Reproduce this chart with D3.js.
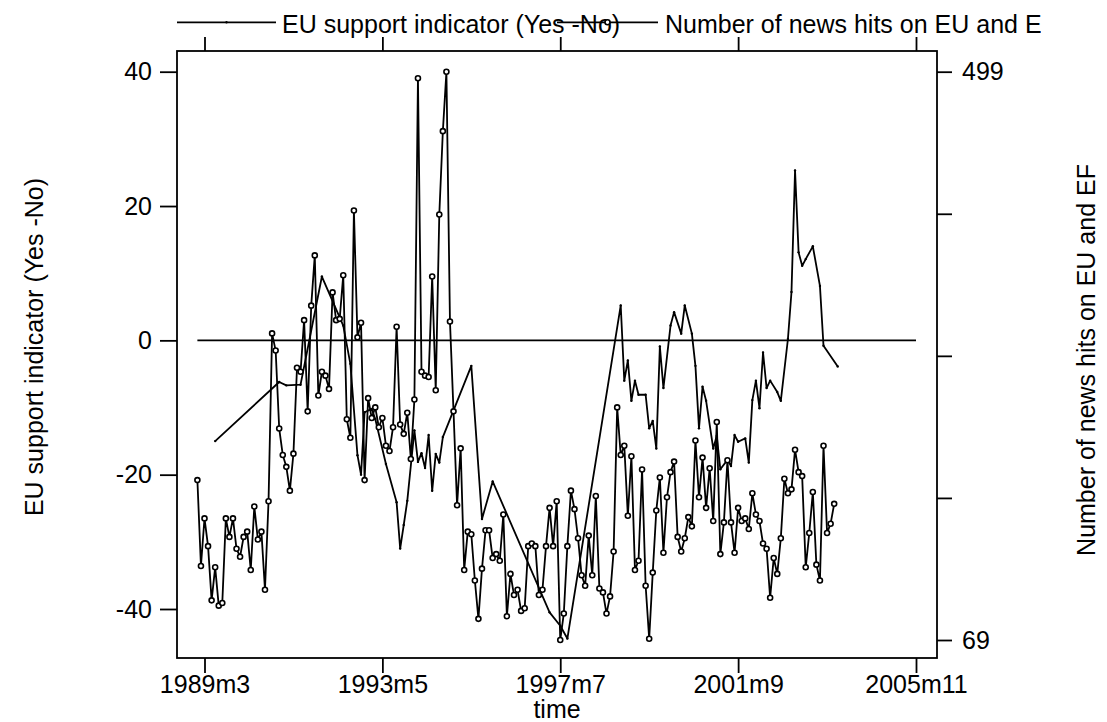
<!DOCTYPE html>
<html lang="en">

<head>
    <title>EU support and news hits</title>
    <meta charset="UTF-8">
    <script src="https://d3js.org/d3.v7.min.js"></script>
    <style>
        body {
            margin: 0;
            background: #fff;
        }

        text {
            font-family: "Liberation Sans", Arial, sans-serif;
            font-size: 25px;
            fill: #000;
        }
    </style>
</head>

<body>
    <svg width="1107" height="722"></svg>

    <script>
        // time ticks (Stata monthly dates)
        const timeTicks = ["1989m3", "1993m5", "1997m7", "2001m9", "2005m11"];
        // range of the y=0 reference line
        const zeroLineRange = ["1989m1", "2005m11"];

        // EU support indicator (Yes - No), left axis
        const supportMonths = ["1989m6", "1990m12", "1991m2", "1991m6", "1991m12",
            "1992m6", "1992m8", "1992m10", "1992m11", "1992m12",
            "1993m2", "1993m3", "1993m6", "1993m9", "1993m10", "1993m11", "1993m12",
            "1994m2", "1994m3", "1994m4", "1994m5", "1994m6", "1994m7", "1994m8", "1994m9", "1994m10",
            "1995m6", "1995m9", "1995m12",
            "1997m4", "1997m7", "1997m9",
            "1998m12",
            "1999m1", "1999m2", "1999m3", "1999m4", "1999m5", "1999m7", "1999m8", "1999m9", "1999m10", "1999m11", "1999m12",
            "2000m2", "2000m3", "2000m5", "2000m6", "2000m8", "2000m9", "2000m10", "2000m11", "2000m12",
            "2001m2", "2001m3", "2001m4", "2001m6", "2001m7", "2001m8", "2001m9", "2001m11", "2001m12",
            "2002m1", "2002m2", "2002m3", "2002m4", "2002m5", "2002m6", "2002m8", "2002m9", "2002m11", "2002m12",
            "2003m1", "2003m2", "2003m3", "2003m4", "2003m6", "2003m8", "2003m9",
            "2004m1"];
        const support = [-15.0, -6.2, -6.7, -6.6, 9.5,
            2.2, -3.5, -17.1, -20.0, -10.7,
            -10.2, -11.7, -18.4, -24.1, -31.0, -27.5, -23.9,
            -13.4, -18.1, -16.8, -19.0, -14.1, -22.4, -16.9, -18.2, -14.4,
            -3.8, -26.6, -21.0,
            -40.5, -42.5, -44.4,
            5.2,
            -6.0, -3.0, -9.0, -6.0, -8.1, -8.1, -13.1, -12.0, -16.1, -0.9, -7.1,
            2.2, 4.2, 1.0, 5.2, 1.0, -3.8, -13.1, -6.9, -9.0,
            -16.1, -14.2, -19.2, -17.8, -18.7, -14.1, -15.1, -14.6, -18.2,
            -8.9, -6.0, -10.1, -1.8, -7.1, -6.0, -7.7, -9.0, 0.2, 7.2,
            25.3, 13.1, 11.1, 12.1, 14.0, 8.1, -0.8,
            -3.9];

        // Number of news hits on EU and EF, right axis, monthly from newsStart
        const newsStart = "1989m1";
        const newsHits = [190, 125, 161, 140, 99, 124, 95, 97, 161, 147,
            161, 138, 132, 147, 151, 122, 170, 145, 151, 107,
            174, 301, 288, 229, 209, 200, 182, 210, 275, 272,
            311, 242, 322, 360, 254, 272, 269, 259, 332, 311,
            312, 345, 236, 222, 394, 298, 309, 190, 252, 237,
            245, 230, 237, 216, 212, 230, 306, 232, 225, 241,
            206, 251, 494, 272, 269, 268, 344, 258, 391, 454,
            499, 310, 242, 171, 214, 122, 151, 149, 114, 85,
            123, 152, 152, 131, 134, 129, 164, 87, 119, 103,
            107, 91, 93, 140, 142, 140, 103, 107, 140, 169,
            140, 174, 69, 89, 140, 182, 168, 146, 118, 110,
            148, 118, 178, 108, 105, 89, 102, 136, 245, 209,
            216, 163, 208, 122, 129, 198, 110, 70, 120, 167,
            192, 135, 177, 196, 204, 147, 136, 146, 162, 155,
            220, 177, 207, 169, 199, 159, 234, 134, 158, 205,
            158, 135, 169, 159, 161, 153, 180, 164, 159, 142,
            138, 101, 131, 119, 146, 191, 180, 183, 213, 196,
            193, 124, 150, 181, 126, 114, 216, 150, 157, 172];

        const leftTicks = [-40, -20, 0, 20, 40];
        const rightTicks = [69, 176.5, 284, 391.5, 499];
        const rightLabels = [69, 499];

        const legendLabels = ["EU support indicator (Yes -No)", "Number of news hits on EU and EF"];
        const xTitle = "time";
        const yLeftTitle = "EU support indicator (Yes -No)";
        const yRightTitle = "Number of news hits on EU and EF";

        // "1989m3" <-> Stata month number
        function toMonth(s) {
            const p = s.split("m");
            return (+p[0] - 1960) * 12 + (+p[1] - 1);
        }
        function fmtMonth(m) {
            return (1960 + Math.floor(m / 12)) + "m" + (m % 12 + 1);
        }

        const svg = d3.select("svg");
        const frame = { left: 177, right: 937, top: 51, bottom: 658 };
        const LW = 1.8; // line width

        const x = d3.scaleLinear().domain([toMonth("1989m3"), toMonth("2005m11")]).range([204.5, 916]);
        const yL = d3.scaleLinear().domain([-40, 40]).range([609, 71.7]);
        const yR = d3.scaleLinear().domain([69, 499]).range([640, 71.7]);

        const supportData = supportMonths.map((m, i) => ({ t: toMonth(m), v: support[i] }));
        const t0 = toMonth(newsStart);
        const newsData = newsHits.map((v, i) => ({ t: t0 + i, v: v }));

        // frame
        svg.append("rect")
            .attr("x", frame.left).attr("y", frame.top)
            .attr("width", frame.right - frame.left)
            .attr("height", frame.bottom - frame.top)
            .attr("fill", "none").attr("stroke", "#000").attr("stroke-width", LW);

        // axes
        const tickVals = timeTicks.map(toMonth);
        const xBottom = svg.append("g")
            .attr("transform", `translate(0,${frame.bottom})`)
            .call(d3.axisBottom(x).tickValues(tickVals).tickFormat(fmtMonth).tickSize(15).tickPadding(2));
        const xTop = svg.append("g")
            .attr("transform", `translate(0,${frame.top})`)
            .call(d3.axisTop(x).tickValues(tickVals).tickFormat("").tickSize(14));
        const yLeft = svg.append("g")
            .attr("transform", `translate(${frame.left},0)`)
            .call(d3.axisLeft(yL).tickValues(leftTicks).tickFormat(d => String(d)).tickSize(17).tickPadding(8));
        const yRight = svg.append("g")
            .attr("transform", `translate(${frame.right},0)`)
            .call(d3.axisRight(yR).tickValues(rightTicks)
                .tickFormat(d => rightLabels.includes(d) ? String(d) : "").tickSize(15).tickPadding(10));

        [xBottom, xTop, yLeft, yRight].forEach(g => {
            g.select(".domain").remove();
            g.selectAll(".tick line").attr("stroke", "#000").attr("stroke-width", LW);
            g.selectAll(".tick text").attr("font-size", null).attr("font-family", null).attr("fill", "#000");
        });

        // titles
        svg.append("text").attr("x", (frame.left + frame.right) / 2).attr("y", 718)
            .attr("text-anchor", "middle").text(xTitle);
        svg.append("text").attr("transform", "translate(43,347) rotate(-90)")
            .attr("text-anchor", "middle").text(yLeftTitle);
        svg.append("text").attr("transform", "translate(1095,360) rotate(-90)")
            .attr("text-anchor", "middle").text(yRightTitle);

        // y = 0 reference line
        svg.append("line")
            .attr("x1", x(toMonth(zeroLineRange[0]))).attr("x2", x(toMonth(zeroLineRange[1])))
            .attr("y1", yL(0)).attr("y2", yL(0))
            .attr("stroke", "#000").attr("stroke-width", LW);

        // EU support line
        const lineL = d3.line().x(d => x(d.t)).y(d => yL(d.v));
        svg.append("path").datum(supportData)
            .attr("d", lineL)
            .attr("fill", "none").attr("stroke", "#000").attr("stroke-width", LW)
            .attr("stroke-linejoin", "round");
        svg.append("g").selectAll("circle").data(supportData).enter().append("circle")
            .attr("cx", d => x(d.t)).attr("cy", d => yL(d.v)).attr("r", 1.2)
            .attr("fill", "#000");

        // news hits line with hollow circles
        const lineR = d3.line().x(d => x(d.t)).y(d => yR(d.v));
        svg.append("path").datum(newsData)
            .attr("d", lineR)
            .attr("fill", "none").attr("stroke", "#000").attr("stroke-width", LW)
            .attr("stroke-linejoin", "round");
        svg.append("g").selectAll("circle").data(newsData).enter().append("circle")
            .attr("cx", d => x(d.t)).attr("cy", d => yR(d.v)).attr("r", 2.5)
            .attr("fill", "#fff").attr("stroke", "#000").attr("stroke-width", 1.6);

        // legend
        svg.append("clipPath").attr("id", "legclip")
            .append("rect").attr("x", 0).attr("y", 0).attr("width", 1041).attr("height", 50);
        const leg = svg.append("g").attr("clip-path", "url(#legclip)");
        const keys = [{ x0: 177, x1: 276, tx: 282 }, { x0: 557, x1: 658, tx: 665 }];
        keys.forEach((k, i) => {
            leg.append("line").attr("x1", k.x0).attr("x2", k.x1).attr("y1", 22.3).attr("y2", 22.3)
                .attr("stroke", "#000").attr("stroke-width", LW);
            leg.append("text").attr("x", k.tx).attr("y", 33).text(legendLabels[i]);
        });
        leg.append("circle").attr("cx", (keys[0].x0 + keys[0].x1) / 2).attr("cy", 22.3).attr("r", 1.2)
            .attr("fill", "#000");
        leg.append("circle").attr("cx", (keys[1].x0 + keys[1].x1) / 2).attr("cy", 22.3).attr("r", 2.5)
            .attr("fill", "#fff").attr("stroke", "#000").attr("stroke-width", 1.6);
    </script>

</body>

</html>
